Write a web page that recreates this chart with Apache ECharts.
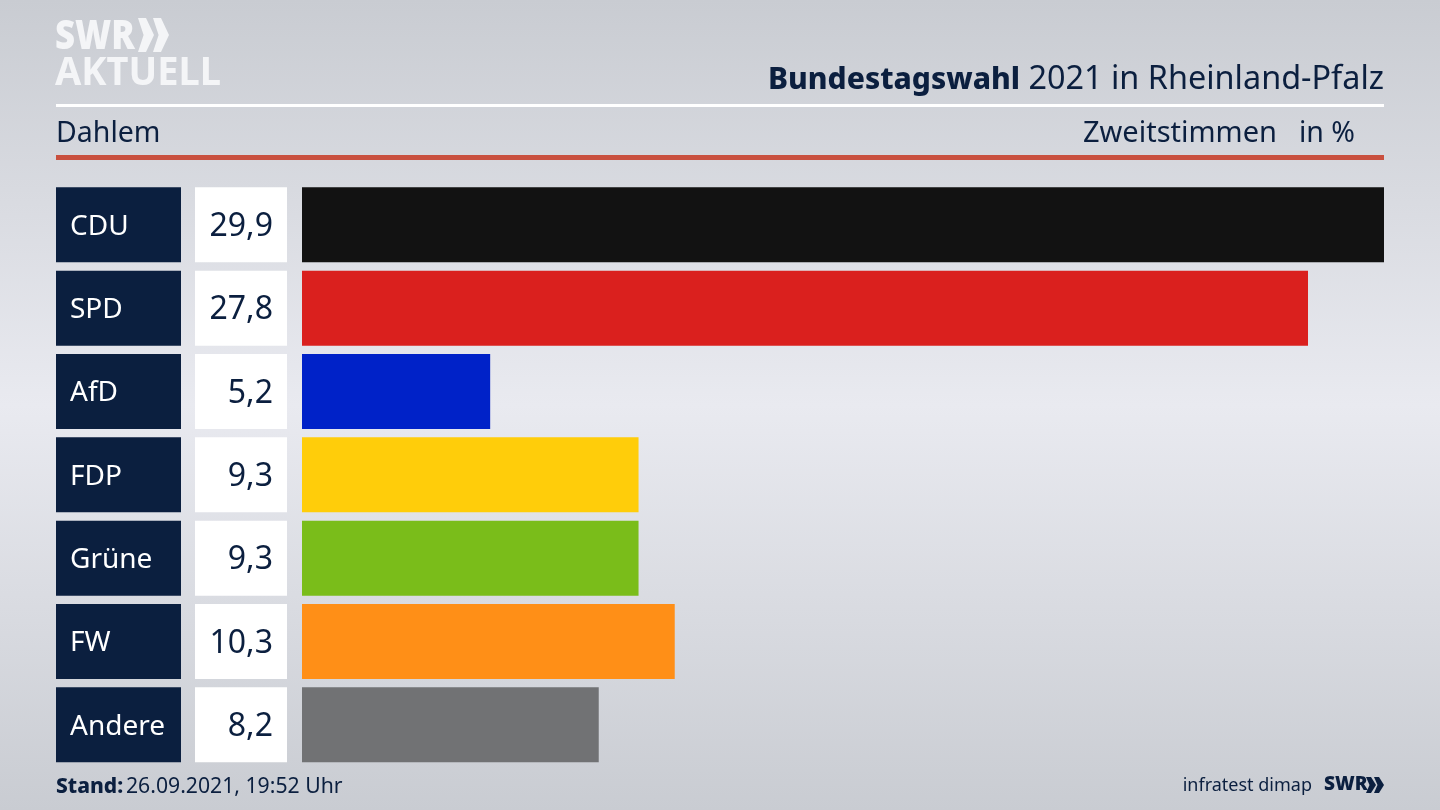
<!DOCTYPE html>
<html>
<head>
<meta charset="utf-8">
<style>html,body{margin:0;padding:0;background:#d8dae0}#chart{width:1440px;height:810px}</style>
<script src="https://cdn.jsdelivr.net/npm/echarts@6/dist/echarts.min.js"></script>
</head>
<body>
<div id="chart"></div>
<script>
const parties = ["CDU", "SPD", "AfD", "FDP", "Grüne", "FW", "Andere"];
const shares = [29.9, 27.8, 5.2, 9.3, 9.3, 10.3, 8.2];
const partyColors = ["#121212", "#da201e", "#0022c8", "#ffcd0a", "#7abd1a", "#ff8f17", "#717274"];

const NAVY = "#0b1f3f";
const LOGO = "#f4f5f7";
const FONT = "'Noto Sans', sans-serif";
const TOP = 183.2;
const ROWS = 583.3;
const BAR = 75;

const chart = echarts.init(document.getElementById("chart"));

// the same category axis is used by all three columns
const catAxis = (i) => ({
  gridIndex: i,
  type: "category",
  inverse: true,
  data: parties,
  show: false,
});
const valAxis = (i, max) => ({ gridIndex: i, type: "value", min: 0, max, show: false });

const text = (x, y, t, size, extra) => ({
  type: "text",
  x,
  y,
  style: Object.assign(
    { text: t, font: `${size}px ${FONT}`, fill: NAVY, textVerticalAlign: "middle" },
    extra
  ),
});
const rect = (x, y, width, height, fill) => ({ type: "rect", shape: { x, y, width, height }, style: { fill } });
const chevron = (x, y, w, h, fill) => ({
  type: "polygon",
  shape: {
    points: [
      [x, y],
      [x + w * 0.5, y],
      [x + w, y + h / 2],
      [x + w * 0.5, y + h],
      [x, y + h],
      [x + w * 0.35, y + h / 2],
    ],
  },
  style: { fill },
});

const option = {
  animation: false,
  backgroundColor: {
    type: "linear",
    x: 0,
    y: 0,
    x2: 0,
    y2: 1,
    colorStops: [
      { offset: 0, color: "#c9ccd2" },
      { offset: 0.5, color: "#e9eaf0" },
      { offset: 1, color: "#c9ccd2" },
    ],
  },
  grid: [
    { left: 56, top: TOP, width: 125, height: ROWS },
    { left: 195, top: TOP, width: 92, height: ROWS },
    { left: 302, top: TOP, width: 1082, height: ROWS },
  ],
  xAxis: [valAxis(0, 1), valAxis(1, 1), valAxis(2, 29.9)],
  yAxis: [catAxis(0), catAxis(1), catAxis(2)],
  series: [
    {
      type: "bar",
      xAxisIndex: 0,
      yAxisIndex: 0,
      barWidth: BAR,
      data: parties.map(() => 1),
      itemStyle: { color: NAVY },
      label: {
        show: true,
        position: "insideLeft",
        distance: 14,
        offset: [0, 2],
        formatter: (p) => p.name,
        color: "#fff",
        fontFamily: FONT,
        fontSize: 28,
      },
    },
    {
      type: "bar",
      xAxisIndex: 1,
      yAxisIndex: 1,
      barWidth: BAR,
      data: parties.map(() => 1),
      itemStyle: { color: "#fff" },
      label: {
        show: true,
        position: "insideRight",
        distance: 14,
        offset: [0, 2],
        formatter: (p) => shares[p.dataIndex].toFixed(1).replace(".", ","),
        color: NAVY,
        fontFamily: FONT,
        fontSize: 32,
      },
    },
    {
      type: "bar",
      xAxisIndex: 2,
      yAxisIndex: 2,
      barWidth: BAR,
      data: shares.map((v, i) => ({ value: v, itemStyle: { color: partyColors[i] } })),
    },
  ],
  graphic: [
    rect(56, 104, 1328, 3, "#fff"),
    rect(56, 155, 1328, 5, "#c9503f"),

    // logo
    Object.assign(text(55, 37, "SWR", 41, { font: `900 41px ${FONT}`, fill: LOGO }), { scaleX: 0.85 }),
    chevron(138, 18, 16, 34, LOGO),
    chevron(153, 18, 16, 34, LOGO),
    Object.assign(text(55, 74, "AKTUELL", 40, { font: `700 40px ${FONT}`, fill: LOGO }), { scaleX: 0.95 }),

    // header
    text(1020, 80, "Bundestagswahl", 30, { font: `800 30px ${FONT}`, textAlign: "right" }),
    text(1384, 80, "2021 in Rheinland-Pfalz", 32.4, { textAlign: "right" }),
    text(56, 134, "Dahlem", 28.5),
    text(1277, 134, "Zweitstimmen", 29, { textAlign: "right" }),
    text(1355, 134, "in %", 28.5, { textAlign: "right" }),

    // footer
    text(56, 787, "Stand:", 21, { font: `800 21px ${FONT}` }),
    text(126, 787, "26.09.2021, 19:52 Uhr", 21.2),
    text(1312, 786, "infratest dimap", 18, { textAlign: "right" }),
    text(1324, 785, "SWR", 19, { font: `900 19px ${FONT}` }),
    chevron(1366, 777, 10, 16, NAVY),
    chevron(1374, 777, 10, 16, NAVY),
  ],
};

chart.setOption(option);
</script>
</body>
</html>
